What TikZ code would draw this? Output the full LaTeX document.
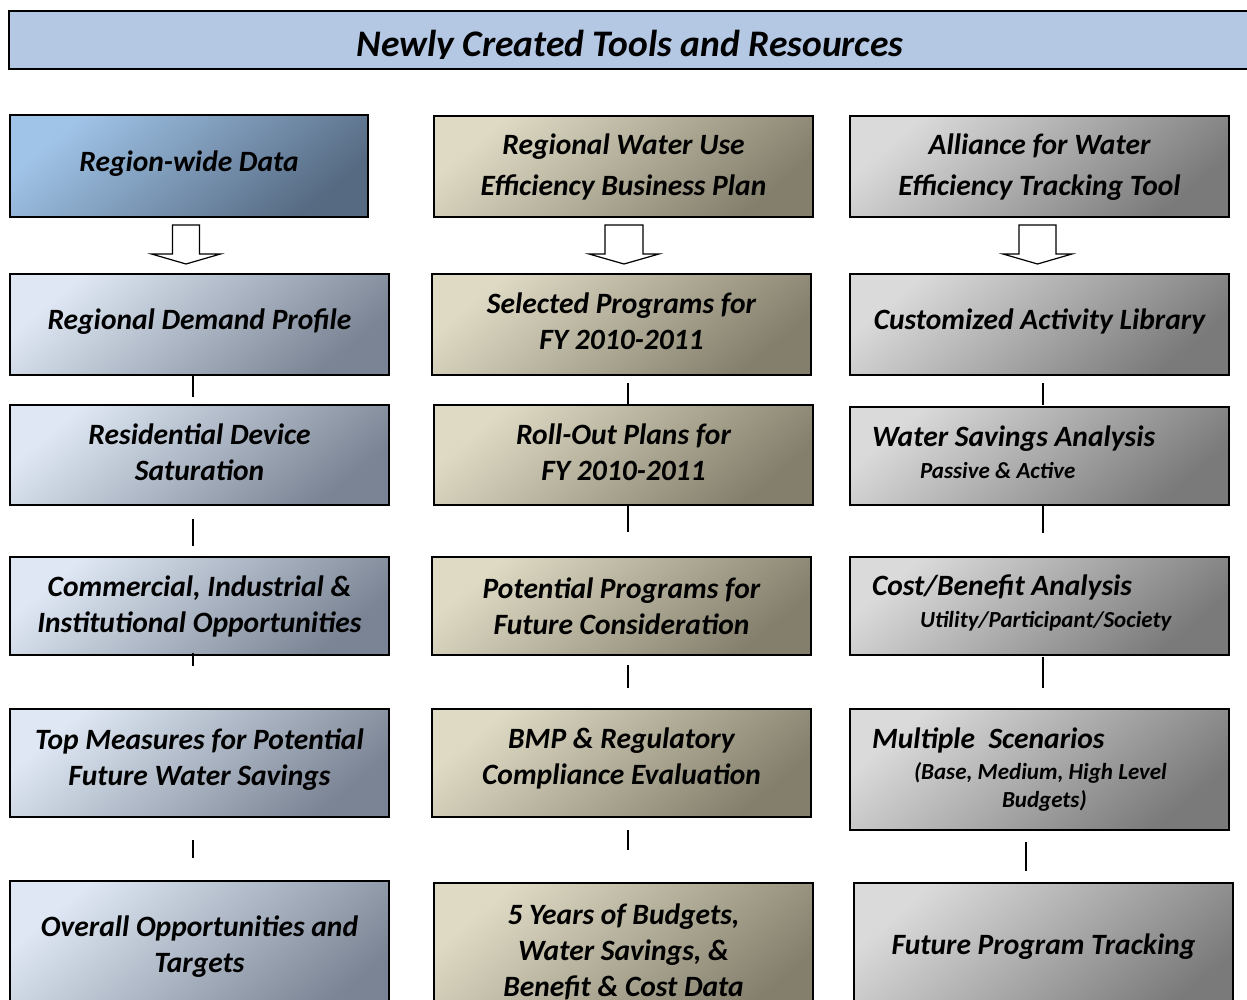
\documentclass[tikz,border=0pt]{standalone}
\usepackage{fontspec}
\setmainfont{Carlito}
\usetikzlibrary{calc}

\definecolor{titlefill}{RGB}{180,200,228}
\definecolor{blueA}{RGB}{160,196,232}
\definecolor{blueB}{RGB}{86,106,130}
\definecolor{paleA}{RGB}{222,231,243}
\definecolor{paleB}{RGB}{122,132,148}
\definecolor{tanA}{RGB}{222,218,196}
\definecolor{tanB}{RGB}{132,127,108}
\definecolor{greyA}{RGB}{218,218,218}
\definecolor{greyB}{RGB}{122,122,122}

\newcommand\mainfont{\fontsize{29.5}{36}\selectfont\bfseries\itshape}
\newcommand\subfont{\fontsize{23}{28}\selectfont\bfseries\itshape}

\tikzset{
  x=1pt, y=-1pt,
  box/.style={draw=black, line width=1.6pt, minimum width=379pt, inner sep=4pt,
    align=center, font=\mainfont},
  bluebox/.style={box, top color=blueA, bottom color=blueB, shading angle=40},
  palebox/.style={box, top color=paleA, bottom color=paleB, shading angle=40},
  tanbox/.style={box, top color=tanA, bottom color=tanB, shading angle=40},
  greybox/.style={box, top color=greyA, bottom color=greyB, shading angle=40},
  leftbox/.style={align=flush left, text width=335pt, inner xsep=22pt},
  link/.style={draw=black, line width=1.8pt},
  hollowarrow/.style={draw=black, line width=1.2pt, fill=white, line join=miter},
}

\begin{document}
\begin{tikzpicture}
\useasboundingbox (0,0) rectangle (1247,1000);
\clip (0,0) rectangle (1247,1000);

% title bar
\node[draw=black, line width=2pt, fill=titlefill, minimum width=1251pt,
      minimum height=58pt, inner sep=0pt] (title) at (634.5,40) {};
\begin{scope}
  \clip (0,0) rectangle (1247,59);
  \node[anchor=base, inner sep=0pt, font=\fontsize{37.5}{44}\selectfont\bfseries\itshape]
    (titletext) at (630,57) {Newly Created Tools and Resources};
\end{scope}

% first column
\node[bluebox, minimum width=358pt, minimum height=102pt, text depth=10pt] (rwd) at (189,166) {Region-wide Data};
\node[palebox, minimum height=101pt, text depth=10pt] (rdp) at (199.5,324.5) {Regional Demand Profile};
\node[palebox, minimum height=100pt, text depth=5pt] (rds) at (199.5,455) {Residential Device\\Saturation};
\node[palebox, minimum height=98pt] (cii) at (199.5,606) {Commercial, Industrial \&\\Institutional Opportunities};
\node[palebox, minimum height=108pt, text depth=12pt] (tms) at (199.5,763) {Top Measures for Potential\\Future Water Savings};
\node[palebox, minimum height=139pt, text depth=12pt] (ovr) at (199.5,950.5) {Overall Opportunities and\\Targets};

% second column
\node[tanbox, minimum height=101pt] (rwu) at (623.5,166.5) {Regional Water Use\\[5pt]Efficiency Business Plan};
\node[tanbox, minimum height=101pt, text depth=6pt] (sel) at (621.5,324.5) {Selected Programs for\\FY 2010-2011};
\node[tanbox, minimum height=100pt, text depth=5pt] (rol) at (623.5,455) {Roll-Out Plans for\\FY 2010-2011};
\node[tanbox, minimum height=98pt] (pot) at (621.5,606) {Potential Programs for\\Future Consideration};
\node[tanbox, minimum height=108pt, text depth=14pt] (bmp) at (621.5,763) {BMP \& Regulatory\\Compliance Evaluation};
\node[tanbox, minimum height=137pt] (fiv) at (623.5,951.5) {5 Years of Budgets,\\Water Savings, \&\\Benefit \& Cost Data};

% third column
\node[greybox, minimum height=101pt, text depth=4pt] (awe) at (1039.5,166.5) {Alliance for Water\\[5pt]Efficiency Tracking Tool};
\node[greybox, minimum height=101pt, text depth=10pt] (cal) at (1039.5,324.5) {Customized Activity Library};
\node[greybox, leftbox, minimum height=98pt, text depth=40pt] (wsa) at (1039.5,456)
  {Water Savings Analysis\\[-4pt]{\subfont\hspace*{48pt}Passive \& Active}};
\node[greybox, leftbox, minimum height=98pt, text depth=41pt] (cba) at (1039.5,606)
  {Cost/Benefit Analysis\\[-4pt]{\subfont\hspace*{48pt}Utility/Participant/Society}};
\node[greybox, leftbox, minimum height=121pt] (mul) at (1039.5,769.5)
  {Multiple\ \ Scenarios\\[-5pt]{\subfont\hspace*{42pt}(Base, Medium, High Level}\\[-8pt]{\subfont\hspace*{130pt}Budgets)}};
\node[greybox, minimum height=137pt, text depth=14pt] (fpt) at (1043.5,951.5) {Future Program Tracking};

% hollow block arrows under the top row
\coordinate (a1) at (186,225);
\coordinate (a2) at (624,225);
\coordinate (a3) at (1037.5,225);
\draw[hollowarrow] (a1) ++(-13.5,0) -- ++(0,29) -- ++(-21,0) -- ++(34.5,10) -- ++(34.5,-10) -- ++(-21,0) -- ++(0,-29) -- cycle;
\draw[hollowarrow] (a2) ++(-19,0) -- ++(0,29) -- ++(-16,0) -- ++(35,10) -- ++(35,-10) -- ++(-16,0) -- ++(0,-29) -- cycle;
\draw[hollowarrow] (a3) ++(-18.5,0) -- ++(0,29) -- ++(-16,0) -- ++(34.5,10) -- ++(34.5,-10) -- ++(-16,0) -- ++(0,-29) -- cycle;

% short vertical links between the rows
\coordinate (p1a) at (193,375);  \coordinate (q1a) at (193,397);
\coordinate (p1b) at (193,519);  \coordinate (q1b) at (193,546);
\coordinate (p1c) at (193,653);  \coordinate (q1c) at (193,666);
\coordinate (p1d) at (193,840);  \coordinate (q1d) at (193,858);
\coordinate (p2a) at (628,383);  \coordinate (q2a) at (628,404);
\coordinate (p2b) at (628,505);  \coordinate (q2b) at (628,532);
\coordinate (p2c) at (628,665);  \coordinate (q2c) at (628,688);
\coordinate (p2d) at (628,830);  \coordinate (q2d) at (628,850);
\coordinate (p3a) at (1043,383); \coordinate (q3a) at (1043,405);
\coordinate (p3b) at (1043,506); \coordinate (q3b) at (1043,533);
\coordinate (p3c) at (1043,657); \coordinate (q3c) at (1043,688);
\coordinate (p3d) at (1026,842); \coordinate (q3d) at (1026,871);
\foreach \c in {1a,1b,1c,1d,2a,2b,2c,2d,3a,3b,3c,3d}
  \draw[link] (p\c) -- (q\c);
\end{tikzpicture}
\end{document}
